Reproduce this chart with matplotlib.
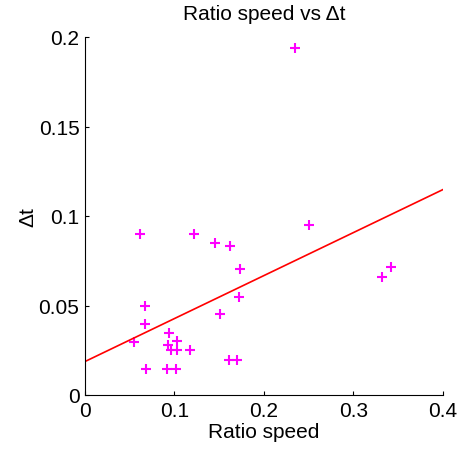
import numpy as np
import matplotlib
matplotlib.use('Agg')
import matplotlib.pyplot as plt

plt.rcParams['font.family'] = ['Liberation Sans', 'DejaVu Sans']

ratio_speed = [0.0615, 0.1219, 0.1456, 0.1625, 0.1734, 0.1719, 0.1506, 0.0671, 0.0671,
               0.0552, 0.0936, 0.0932, 0.0962, 0.1025, 0.1029, 0.1179, 0.0678, 0.0912,
               0.1021, 0.1615, 0.1704, 0.2347, 0.2506, 0.3422, 0.3322]
delta_t = [0.090, 0.090, 0.085, 0.083, 0.0705, 0.0547, 0.045, 0.050, 0.0397,
           0.0295, 0.0347, 0.0277, 0.0249, 0.0299, 0.0249, 0.0249, 0.0145, 0.0145,
           0.0145, 0.0197, 0.0197, 0.194, 0.0948, 0.0714, 0.066]
fit_slope = 0.240
fit_intercept = 0.0187

fig = plt.figure(figsize=(4.59, 4.52), dpi=100)
ax = fig.add_axes([85/459, 56/452, 357.7/459, 358/452])

ax.plot(ratio_speed, delta_t, '+', color='#ff00ff', markersize=7, mew=1.5)
xf = np.array([0, 0.4])
ax.plot(xf, fit_slope * xf + fit_intercept, color='#ff0000', lw=1.2)

ax.set_xlim(0, 0.4)
ax.set_ylim(0, 0.2)
ax.set_xticks([0, 0.1, 0.2, 0.3, 0.4])
ax.set_xticklabels(['0', '0.1', '0.2', '0.3', '0.4'])
ax.set_yticks([0, 0.05, 0.1, 0.15, 0.2])
ax.set_yticklabels(['0', '0.05', '0.1', '0.15', '0.2'])
ax.spines['top'].set_visible(False)
ax.spines['right'].set_visible(False)
ax.tick_params(direction='in', labelsize=15, length=3, pad=4)
ax.set_title('Ratio speed vs \u0394t', fontsize=15, pad=13)
ax.set_xlabel('Ratio speed', fontsize=15, labelpad=2)
ax.set_ylabel('\u0394t', fontsize=15, labelpad=1)

fig.savefig('out.png', dpi=100)
